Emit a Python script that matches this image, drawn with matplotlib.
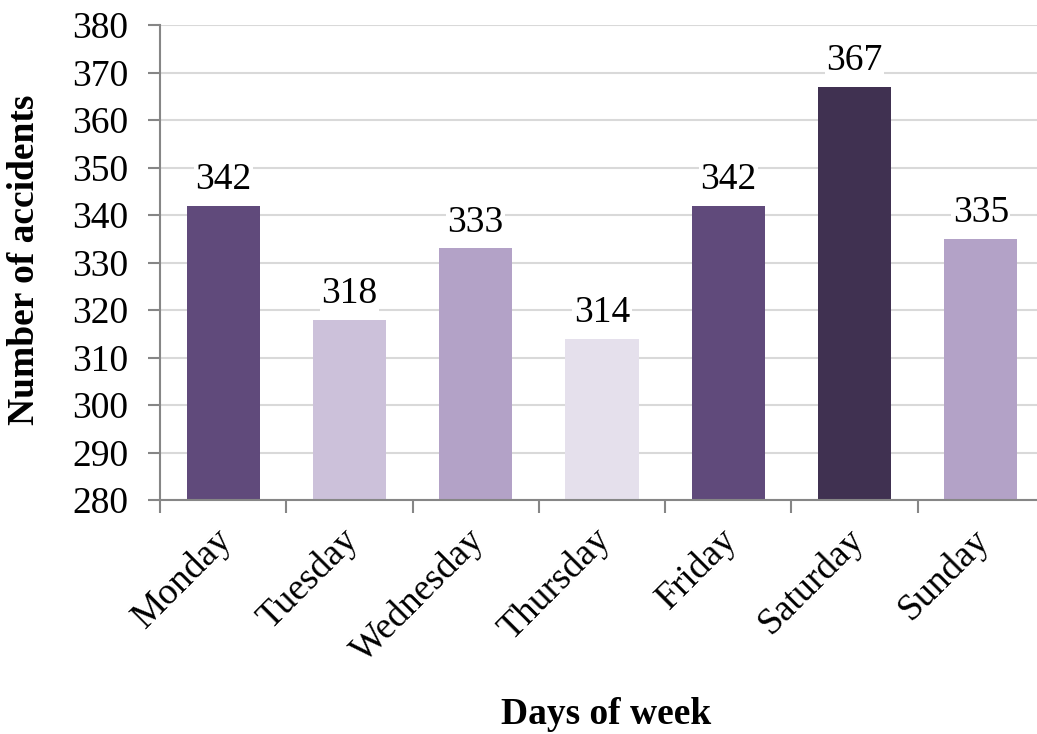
import matplotlib.pyplot as plt
import matplotlib.transforms as mtransforms
import numpy as np

days = ['Monday', 'Tuesday', 'Wednesday', 'Thursday', 'Friday', 'Saturday', 'Sunday']
accidents = [342, 318, 333, 314, 342, 367, 335]
colors = ['#604a7b', '#ccc1da', '#b3a2c7', '#e5e0ec', '#604a7b', '#403151', '#b3a2c7']

plt.rcParams['font.family'] = ['Liberation Serif', 'DejaVu Serif']
fs = 27

fig = plt.figure(figsize=(10.37, 7.34), dpi=100)
ax = fig.add_axes([160 / 1037, 1 - 500 / 734, 884 / 1037, 475 / 734])

x = np.arange(len(days))
bars = ax.bar(x, accidents, width=0.58, color=colors, zorder=2)

ax.set_ylim(280, 380)
ax.set_xlim(-0.5, len(days) - 0.5)
ax.set_yticks(range(280, 381, 10))
ax.yaxis.grid(True, color='#d9d9d9', linewidth=1.5, zorder=0)
ax.set_axisbelow(True)

for s in ['top', 'right']:
    ax.spines[s].set_visible(False)
for s in ['left', 'bottom']:
    ax.spines[s].set_color('#868686')
    ax.spines[s].set_linewidth(1.5)

ax.tick_params(axis='y', labelsize=fs, length=9, width=1.5, color='#868686', pad=14)
ax.set_xticks(np.arange(-0.5, len(days) + 0.5, 1))
ax.set_xticklabels([])
ax.tick_params(axis='x', length=9, width=1.5, color='#868686')
ax.set_xticks(x, minor=True)
ax.set_xticklabels(days, minor=True, rotation=45, ha='right', va='top',
                   rotation_mode='anchor', fontsize=fs)
ax.tick_params(axis='x', which='minor', length=0, pad=16)
shift = mtransforms.ScaledTranslation(-9 / 100, 0, fig.dpi_scale_trans)
for lab in ax.get_xticklabels(minor=True):
    lab.set_transform(lab.get_transform() + shift)

for b, v in zip(bars, accidents):
    ax.annotate(str(v), (b.get_x() + b.get_width() / 2, v), xytext=(0, 6),
                textcoords='offset points', ha='center', va='bottom', fontsize=fs,
                bbox=dict(facecolor='white', edgecolor='none', pad=1))

fig.text(25 / 1037, 1 - 260 / 734, 'Number of accidents', fontsize=fs,
         fontweight='bold', rotation=90, ha='center', va='center')
fig.text(606 / 1037, 1 - 715 / 734, 'Days of week', fontsize=fs,
         fontweight='bold', ha='center', va='center')

fig.savefig('out.png', dpi=100)
